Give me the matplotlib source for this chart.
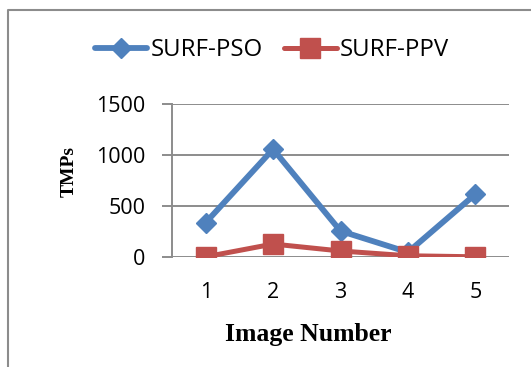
import matplotlib
matplotlib.use("Agg")
import matplotlib.pyplot as plt
from matplotlib.lines import Line2D

# Data
images = [1, 2, 3, 4, 5]
surf_pso = [340, 1060, 258, 50, 618]
surf_ppv = [5, 130, 62, 15, 5]
series_names = ["SURF-PSO", "SURF-PPV"]
y_ticks = [0, 500, 1000, 1500]

W, H = 531, 367
DPI = 100
fig = plt.figure(figsize=(W / DPI, H / DPI), dpi=DPI)

def fx(px):
    return px / W

def fy(py):
    return 1 - py / H

blue = "#4F81BD"
red = "#C0504D"
grid = "#8C8C8C"
tick_font = "Open Sans"
serif = "Liberation Serif"

left, right = 172, 509
top, bottom = 104.3, 257.3
ax = fig.add_axes([fx(left), fy(bottom), fx(right - left), fy(top) - fy(bottom)])

ax.plot(images, surf_pso, color=blue, lw=4.2, marker="D", ms=10,
        mfc=blue, mec=blue, label=series_names[0], solid_capstyle="round",
        zorder=3)
ax.plot(images, surf_ppv, color=red, lw=3.6, marker="s", ms=14.5,
        mfc=red, mec=red, label=series_names[1], solid_capstyle="round",
        zorder=4)

ax.set_xlim(0.5, 5.5)
ax.set_ylim(0, 1500)
ax.set_yticks(y_ticks)
ax.set_xticks(images)
ax.set_xticklabels([str(i) for i in images])
ax.yaxis.grid(True, color=grid, lw=1.4)
ax.set_axisbelow(True)
for s in ["top", "right", "bottom"]:
    ax.spines[s].set_visible(False)
ax.spines["left"].set_color(grid)
ax.spines["left"].set_linewidth(1.4)
ax.tick_params(axis="y", length=7, width=1.4, color=grid, pad=12,
               labelsize=15.5, labelcolor="black")
ax.tick_params(axis="x", length=0, pad=18, labelsize=15.5, labelcolor="black")
for lab in ax.get_xticklabels() + ax.get_yticklabels():
    lab.set_fontfamily(tick_font)
ax.patch.set_alpha(0)

# Axis titles
fig.text(fx(308), fy(335), "Image Number", ha="center", va="center",
         family=serif, weight="bold", fontsize=18.5)
fig.text(fx(69), fy(171.5), "TMPs", ha="center", va="center", rotation=90,
         family=serif, weight="bold", fontsize=14)

# Legend
leg = fig.legend(loc="center", bbox_to_anchor=(fx(272), fy(50)), ncol=2,
                 frameon=False, prop={"family": tick_font, "size": 17.3},
                 handlelength=2.2, handletextpad=0.15, columnspacing=0.85,
                 borderaxespad=0, borderpad=0)

# Outer chart frame
fig.add_artist(Line2D([fx(8.3), fx(8.3), fx(W + 5)], [fy(H + 5), fy(10), fy(10)],
                      transform=fig.transFigure, color="#8C8C8C", lw=1.5))

fig.savefig("out.png", dpi=DPI)
